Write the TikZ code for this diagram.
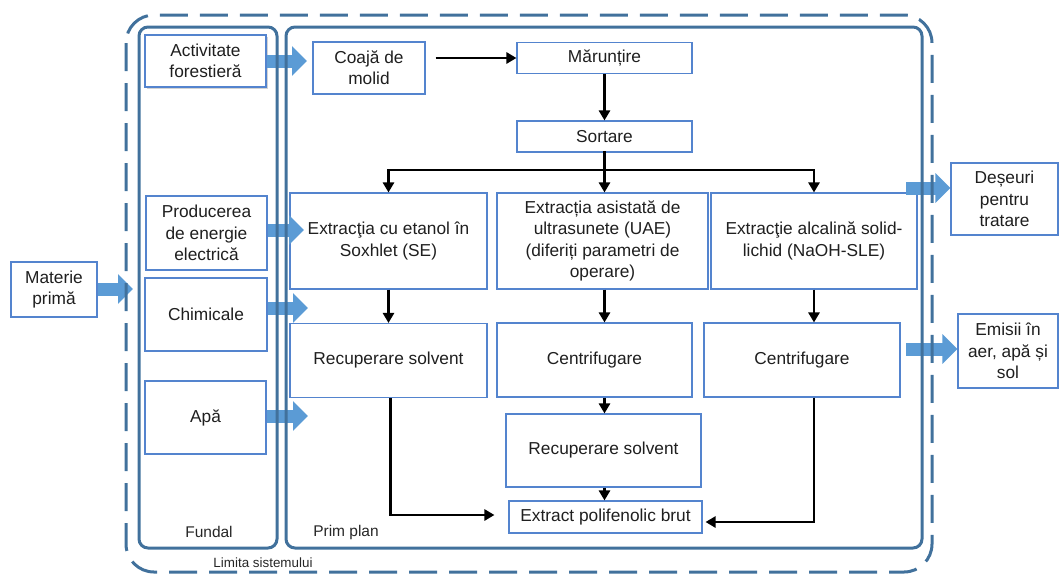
\documentclass[tikz,border=0pt]{standalone}
\usepackage{fontspec}
\setmainfont{Liberation Sans}
\usetikzlibrary{arrows.meta,shadows}
\pgfdeclarelayer{arrows}
\pgfdeclarelayer{top}
\pgfsetlayers{main,arrows,top}
\definecolor{cont}{RGB}{65,113,156}
\definecolor{boxb}{RGB}{84,132,206}
\definecolor{arr}{RGB}{91,155,213}
\begin{document}
\begin{tikzpicture}[x=1pt,y=-1pt,
 box/.style={draw=boxb, line width=1.1pt, fill=white, align=center, inner sep=0pt,
   font=\fontsize{17.3}{21.3}\selectfont, text=black!88},
 container/.style={draw=cont, line width=3pt, rounded corners=9pt},
 boundary/.style={draw=cont, line width=3pt, rounded corners=28pt, dash pattern=on 28pt off 12pt},
 flow/.style={draw=black, line width=2.5pt, -{Triangle[length=10pt,width=11pt]}},
 flowline/.style={draw=black, line width=2.5pt, line cap=rect},
 blockarrow/.style={draw=arr, line width=13pt, -{Triangle[length=15pt,width=29pt]}},
 lbl/.style={font=\fontsize{15.5}{18}\selectfont, text=black!85, inner sep=0pt}
]
\useasboundingbox (0,0) rectangle (1060,574);

% containers
\begin{pgfonlayer}{top}
\draw[container] (139,27) rectangle (277,548);
\draw[container] (286,27) rectangle (922,548);
\draw[boundary] (126,15) rectangle (932,572);
\end{pgfonlayer}

% boxes
\node[box, minimum width=121pt, minimum height=52pt,
  drop shadow={opacity=0.35, shadow xshift=1.5pt, shadow yshift=-2pt}] (act) at (205.5,61) {Activitate\\forestieră};
\node[box, minimum width=112pt, minimum height=52pt] (coaja) at (369,68) {Coajă de\\molid};
\node[box, minimum width=175pt, minimum height=31pt] (maru) at (604.5,58) {Mărunțire};
\node[box, minimum width=175pt, minimum height=31pt] (sort) at (604.5,136.5) {Sortare};
\node[box, minimum width=121pt, minimum height=74pt] (prod) at (206.5,233) {Producerea\\de energie\\electrică};
\node[box, minimum width=122pt, minimum height=73pt] (chim) at (206,314.5) {Chimicale};
\node[box, minimum width=121pt, minimum height=73pt] (apa) at (205.5,417.5) {Apă};
\node[box, minimum width=86pt, minimum height=55pt] (mat) at (54,289.5) {Materie\\primă};
\node[box, minimum width=197pt, minimum height=96pt] (se) at (388.5,241) {Extracţia cu etanol în\\Soxhlet (SE)};
\node[box, minimum width=211pt, minimum height=96pt] (uae) at (602.5,241) {Extracția asistată de\\ultrasunete (UAE)\\(diferiți parametri de\\operare)};
\node[box, minimum width=206pt, minimum height=96pt] (alc) at (814,241) {Extracţie alcalină solid-\\lichid (NaOH-SLE)};
\node[box, minimum width=197pt, minimum height=74pt] (recL) at (388.5,360.5) {Recuperare solvent};
\node[box, minimum width=195pt, minimum height=74pt] (centM) at (594.5,360) {Centrifugare};
\node[box, minimum width=196pt, minimum height=74pt] (centR) at (802,360) {Centrifugare};
\node[box, minimum width=195pt, minimum height=73pt] (recM) at (603.5,450.5) {Recuperare solvent};
\node[box, minimum width=193pt, minimum height=32pt] (ext) at (605.5,517) {Extract polifenolic brut};
\node[box, minimum width=107pt, minimum height=72pt] (des) at (1004.5,199) {Deșeuri\\pentru\\tratare};
\node[box, minimum width=100pt, minimum height=74pt] (emi) at (1008,351) {Emisii în\\aer, apă și\\sol};

% labels
\node[lbl] (fundal) at (209,532) {Fundal};
\node[lbl] (prim) at (346,532) {Prim plan};
\node[lbl, font=\fontsize{13.4}{15}\selectfont] (lim) at (263,563) {Limita sistemului};

% flow arrows
\coordinate (split) at (604.5,170);
\draw[flow] ([xshift=10pt]coaja.east |- maru.west) -- (maru.west);
\draw[flow] (maru.south) -- (sort.north);
\draw[flowline] (sort.south) -- (split);
\draw[flowline] (se.north |- split) -- (alc.north |- split);
\draw[flow] (se.north |- split) -- (se.north);
\draw[flow] (split) -- (sort.south |- uae.north);
\draw[flow] (alc.north |- split) -- (alc.north);
\draw[flow] (se.south) -- (recL.north);
\draw[flow] (sort.south |- uae.south) -- (sort.south |- centM.north);
\draw[flow] (alc.south) -- (alc.south |- centR.north);
\draw[flow] (sort.south |- centM.south) -- (sort.south |- recM.north);
\draw[flow] (sort.south |- recM.south) -- (sort.south |- ext.north);
\draw[flow] ([xshift=2pt]recL.south) |- ([xshift=-14pt,yshift=2pt]ext.west);
\draw[flow] (alc.south |- centR.south) |- ([xshift=3pt,yshift=-5pt]ext.east);

% block arrows
\begin{pgfonlayer}{arrows}
\coordinate (actT) at (307,61);
\coordinate (prodT) at (304,230);
\coordinate (chimT) at (308,308);
\coordinate (apaT) at (308,416);
\coordinate (matT) at (133,289);
\coordinate (desS) at (906,188);
\coordinate (emiS) at (906,349);
\draw[blockarrow] (act.east) -- (actT);
\draw[blockarrow] (prod.east |- prodT) -- (prodT);
\draw[blockarrow] (chim.east |- chimT) -- (chimT);
\draw[blockarrow] (apa.east |- apaT) -- (apaT);
\draw[blockarrow] (mat.east |- matT) -- (matT);
\draw[blockarrow] (desS) -- (des.west |- desS);
\draw[blockarrow] (emiS) -- (emi.west |- emiS);
\end{pgfonlayer}
\end{tikzpicture}
\end{document}
